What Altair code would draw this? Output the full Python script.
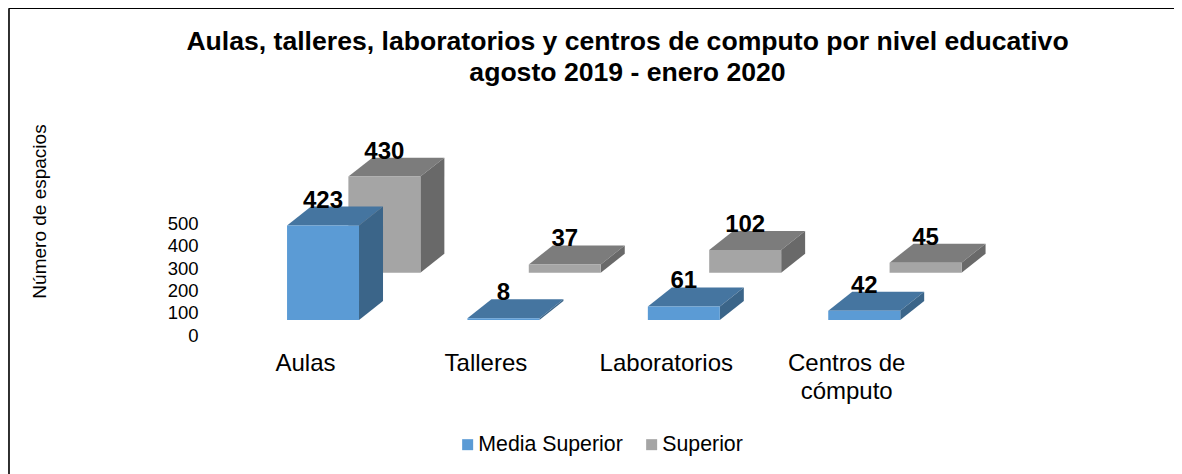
import json
import altair as alt
import pandas as pd

categories = ["Aulas", "Talleres", "Laboratorios", "Centros de cómputo"]
media_superior = [423, 8, 61, 42]
superior = [430, 37, 102, 45]
series_names = ["Media Superior", "Superior"]
axis_ticks = [0, 100, 200, 300, 400, 500]
title_lines = ["Aulas, talleres, laboratorios y centros de computo por nivel educativo",
               "agosto 2019 - enero 2020"]
label_lines = [["Aulas"], ["Talleres"], ["Laboratorios"], ["Centros de", "cómputo"]]

FONT = "Liberation Sans"
W, H = 1166, 462
XD = [-1.6463, 4.8171]
YD = [-622, 1445.8]
BAR = 0.399
DX, DY = 0.133, 85
SHIFT = {"Media Superior": 0.1, "Superior": 0.44}
BASE = {"Media Superior": 67, "Superior": 279}
COL = {"Media Superior": ("#5B9BD5", "#4575A0", "#3B6589"),
       "Superior": ("#A5A5A5", "#7C7C7C", "#696969")}

label_expr = "datum.value==0?" + json.dumps(label_lines[0]) + ":datum.value==1?" + json.dumps(label_lines[1]) + \
    ":datum.value==2?" + json.dumps(label_lines[2]) + ":" + json.dumps(label_lines[3])

x_s = alt.Scale(domain=XD, nice=False, zero=False)
y_s = alt.Scale(domain=YD, nice=False, zero=False)
x_axis = alt.Axis(
    orient="bottom", offset=-104, values=[0, 1, 2, 3], labelExpr=label_expr,
    title=None, domain=False, ticks=False, grid=False, labelFont=FONT, labelFontSize=24,
    labelColor="#000000", labelLineHeight=28, labelPadding=0, labelBaseline="alphabetic", labelAngle=0)
y_axis = alt.Axis(
    orient="left", offset=-190, values=axis_ticks, title="Número de espacios",
    titleFont=FONT, titleFontSize=19, titleFontWeight="normal", titleColor="#000000",
    titleX=-149, titleY=199, titleAngle=270, titleAnchor="middle",
    domain=False, ticks=False, grid=False, labelFont=FONT, labelFontSize=18.5,
    labelColor="#000000", labelPadding=0, labelFlush=False)


def X(f):
    return alt.X(f, scale=x_s, axis=x_axis)


def Y(f):
    return alt.Y(f, scale=y_s, axis=y_axis)


fronts, tops, sides, labels = [], [], [], []
for name, vals in zip(series_names, [media_superior, superior]):
    for i, v in enumerate(vals):
        l = i + SHIFT[name] - BAR / 2
        r = l + BAR
        b = BASE[name]
        t = b + v
        fronts.append(dict(serie=name, cat=categories[i], l=l, r=r, b=b, t=t))
        tops += [dict(serie=name, cat=categories[i], y=t, a=l, c=r),
                 dict(serie=name, cat=categories[i], y=t + DY, a=l + DX, c=r + DX)]
        sides += [dict(serie=name, cat=categories[i], x=r, lo=b, hi=t),
                  dict(serie=name, cat=categories[i], x=r + DX, lo=b + DY, hi=t + DY)]
        labels.append(dict(serie=name, x=(l + r) / 2, y=t, v=v))
fronts, tops, sides, labels = map(pd.DataFrame, (fronts, tops, sides, labels))

color = alt.Color("serie:N",
                  scale=alt.Scale(domain=series_names, range=[COL[n][0] for n in series_names]),
                  legend=alt.Legend(orient="none", legendX=449, legendY=422, direction="horizontal",
                                    title=None, symbolType="square", symbolSize=121,
                                    symbolStrokeWidth=0, labelFont=FONT, labelFontSize=21.3,
                                    labelColor="#000000", columnPadding=18, labelOffset=0))


def faces(name):
    f = fronts[fronts.serie == name]
    tp = tops[tops.serie == name]
    sd = sides[sides.serie == name]
    top = alt.Chart(tp).mark_area(orient="horizontal", color=COL[name][1]).encode(
        y=Y("y:Q"), x=X("a:Q"), x2="c:Q", detail="cat:N")
    side = alt.Chart(sd).mark_area(color=COL[name][2]).encode(
        x=X("x:Q"), y=Y("lo:Q"), y2="hi:Q", detail="cat:N")
    front = alt.Chart(f).mark_rect().encode(x=X("l:Q"), x2="r:Q", y=Y("b:Q"), y2="t:Q", color=color)
    return [top, side, front]


left_frame = alt.Chart(pd.DataFrame({"x": [XD[0] + 0.0055], "y": [YD[0]], "y2": [1462.8]})).mark_rule(
    color="#1a1a1a", strokeWidth=1.8).encode(x=X("x:Q"), y=Y("y:Q"), y2="y2:Q")
top_frame = alt.Chart(pd.DataFrame({"x": [XD[0] + 0.0055], "x2": [XD[1]], "y": [1462.8]})).mark_rule(
    color="#000000", strokeWidth=1.8).encode(x=X("x:Q"), x2="x2:Q", y=Y("y:Q"))

texts = alt.Chart(labels).mark_text(font=FONT, fontSize=24, fontWeight="bold", color="#000000",
                                    align="center", baseline="middle", dy=-25).encode(
    x=X("x:Q"), y=Y("y:Q"), text="v:Q")

chart = alt.layer(left_frame, top_frame, *faces("Superior"), *faces("Media Superior"), texts).properties(
    width=W, height=H, padding={"left": 0, "top": 4, "right": 0, "bottom": 0},
    autosize=alt.AutoSizeParams(type="none"), background="#ffffff",
    title=alt.TitleParams(text=title_lines, anchor="middle", offset=-79, dx=36.5, font=FONT, fontSize=26.6,
                          fontWeight="bold", color="#000000", lineHeight=31),
).configure_view(stroke=None)

chart.save("out.html", embed_options={"renderer": "svg", "actions": False})
